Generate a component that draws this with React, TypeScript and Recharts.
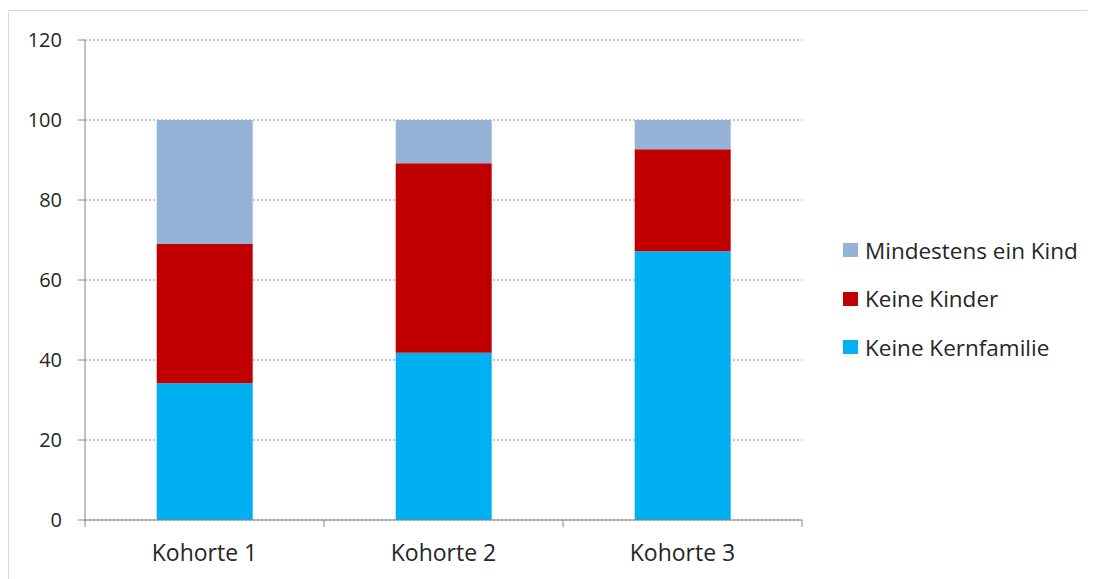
import { BarChart, Bar, XAxis, YAxis, CartesianGrid, Legend } from "recharts";

const categories = ["Kohorte 1", "Kohorte 2", "Kohorte 3"];
const keineKernfamilie = [34.2, 41.8, 67.2];
const keineKinder = [34.8, 47.4, 25.5];
const mindestensEinKind = [31, 10.8, 7.3];
const yTicks = [0, 20, 40, 60, 80, 100, 120];

const data = categories.map((name, i) => ({
  name,
  keineKernfamilie: keineKernfamilie[i],
  keineKinder: keineKinder[i],
  mindestensEinKind: mindestensEinKind[i],
}));

const FONT = "'Open Sans', 'Noto Sans', sans-serif";
const AXIS = "#868686";
const TEXT = "#262626";

// category label plus Excel-style tick marks on the category boundaries
function CategoryTick(props: any) {
  const { x, y, payload, index, visibleTicksCount } = props;
  const half = payload?.offset ?? 0;
  const isLast = index === visibleTicksCount - 1;
  return (
    <g>
      <line x1={x - half} x2={x - half} y1={y - 25} y2={y - 18} stroke={AXIS} />
      {isLast && (
        <line x1={x + half} x2={x + half} y1={y - 25} y2={y - 18} stroke={AXIS} />
      )}
      <text
        x={x}
        y={y}
        dy="0.71em"
        textAnchor="middle"
        fill={TEXT}
        fontSize={23}
        fontFamily={FONT}
      >
        {payload.value}
      </text>
    </g>
  );
}

function LegendList({ payload }: any) {
  const items = [...(payload ?? [])].reverse();
  return (
    <div style={{ fontFamily: FONT, fontSize: 22.5, color: TEXT }}>
      {items.map((item: any) => (
        <div
          key={item.value}
          style={{ display: "flex", alignItems: "center", height: 48.5 }}
        >
          <span
            style={{
              display: "inline-block",
              width: 15,
              height: 14,
              background: item.color,
              marginRight: 7,
            }}
          />
          <span>{item.value}</span>
        </div>
      ))}
    </div>
  );
}

export default function App() {
  return (
    <div
      style={{
        marginTop: 2,
        width: 1087,
        height: 569,
        borderTop: "1px solid #d9d9d9",
        borderLeft: "1px solid #d9d9d9",
        boxSizing: "border-box",
        background: "#fff",
        overflow: "hidden",
      }}
    >
      <BarChart
        width={1085}
        height={565}
        data={data}
        barCategoryGap="30%"
        margin={{ top: 29, right: 292, bottom: 16, left: 16 }}
      >
        <CartesianGrid
          vertical={false}
          stroke={AXIS}
          strokeDasharray="2 2"
          yAxisId="y"
          xAxisId="cat"
        />
        <XAxis
          xAxisId="cat"
          dataKey="name"
          height={40}
          axisLine={{ stroke: AXIS }}
          tickLine={false}
          tickSize={7}
          tickMargin={18}
          tick={<CategoryTick />}
        />
        <YAxis
          yAxisId="y"
          domain={[0, 120]}
          ticks={yTicks}
          width={60}
          axisLine={{ stroke: AXIS }}
          tickLine={{ stroke: AXIS }}
          tickSize={7}
          tickMargin={16}
          tick={{ fill: TEXT, fontSize: 20, fontFamily: FONT }}
        />
        <Legend
          layout="vertical"
          align="center"
          verticalAlign="middle"
          content={<LegendList />}
          wrapperStyle={{ left: 834, top: 215, width: 250 }}
        />
        <Bar
          xAxisId="cat"
          yAxisId="y"
          dataKey="keineKernfamilie"
          name="Keine Kernfamilie"
          stackId="a"
          fill="#00B0F0"
          isAnimationActive={false}
        />
        <Bar
          xAxisId="cat"
          yAxisId="y"
          dataKey="keineKinder"
          name="Keine Kinder"
          stackId="a"
          fill="#C00000"
          isAnimationActive={false}
        />
        <Bar
          xAxisId="cat"
          yAxisId="y"
          dataKey="mindestensEinKind"
          name="Mindestens ein Kind"
          stackId="a"
          fill="#95B3D7"
          isAnimationActive={false}
        />
      </BarChart>
    </div>
  );
}
